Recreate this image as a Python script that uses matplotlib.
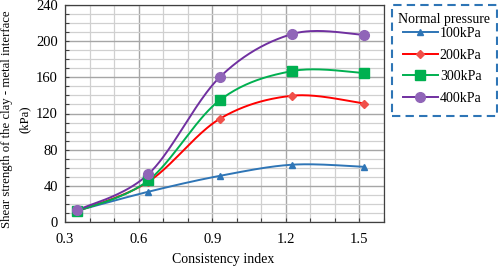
import numpy as np
import matplotlib
matplotlib.use("Agg")
import matplotlib.pyplot as plt
from matplotlib.ticker import MultipleLocator
from matplotlib.lines import Line2D
from matplotlib.patches import Rectangle

plt.rcParams['font.family'] = ['Liberation Serif', 'DejaVu Serif']

consistency = [0.35, 0.64, 0.93, 1.227, 1.52]
series_names = ["100kPa", "200kPa", "300kPa", "400kPa"]
v100 = [12.5, 33.5, 51, 63.4, 61]
v200 = [12, 44.6, 114, 139.7, 131]
v300 = [12, 46, 134.6, 167, 164.8]
v400 = [13, 53, 160, 208, 207]

line_colors = ["#2e75b6", "#ff0000", "#00b050", "#7030a0"]
marker_faces = ["#2e75b6", "#f0504a", "#00b050", "#9065b8"]
markers = ["^", "D", "s", "o"]
msizes = [5, 4, 6.5, 7]


def smooth(x, y, n=40):
    # Excel-style smoothed line: cubic Bezier with Catmull-Rom tangents
    x = np.asarray(x, float); y = np.asarray(y, float)
    px, py = [], []
    k = len(x)
    for i in range(k - 1):
        p0 = (x[i - 1], y[i - 1]) if i > 0 else (x[i], y[i])
        p1 = (x[i], y[i]); p2 = (x[i + 1], y[i + 1])
        p3 = (x[i + 2], y[i + 2]) if i + 2 < k else (x[i + 1], y[i + 1])
        c1 = (p1[0] + (p2[0] - p0[0]) / 6, p1[1] + (p2[1] - p0[1]) / 6)
        c2 = (p2[0] - (p3[0] - p1[0]) / 6, p2[1] - (p3[1] - p1[1]) / 6)
        t = np.linspace(0, 1, n)
        bx = (1-t)**3*p1[0] + 3*(1-t)**2*t*c1[0] + 3*(1-t)*t**2*c2[0] + t**3*p2[0]
        by = (1-t)**3*p1[1] + 3*(1-t)**2*t*c1[1] + 3*(1-t)*t**2*c2[1] + t**3*p2[1]
        px.extend(bx); py.extend(by)
    return np.array(px), np.array(py)


W, H = 498, 267
fig = plt.figure(figsize=(W/100, H/100), dpi=100)
ax = fig.add_axes([65/W, 1 - 222/H, (384-65)/W, (222-5)/H])

ax.set_xlim(0.3, 1.6)
ax.set_ylim(0, 240)
ax.xaxis.set_major_locator(MultipleLocator(0.3))
ax.xaxis.set_minor_locator(MultipleLocator(0.1))
ax.yaxis.set_major_locator(MultipleLocator(40))
ax.yaxis.set_minor_locator(MultipleLocator(10))
ax.grid(which='major', color='#a6a6a6', linewidth=1.0)
ax.grid(which='minor', color='#d0d0d0', linewidth=0.9)
ax.set_axisbelow(True)
ax.set_xticks([0.3, 0.6, 0.9, 1.2, 1.5])
ax.set_xticklabels(["0.3", "0.6", "0.9", "1.2", "1.5"])
ax.tick_params(which='both', direction='in', labelsize=10.5, length=3, width=0.8, color='#404040')
ax.tick_params(axis='x', pad=8)
ax.tick_params(axis='y', pad=5)
for s in ax.spines.values():
    s.set_color('#404040')
    s.set_linewidth(0.9)

handles = []
for vals, name, lc, mf, mk, ms in zip([v100, v200, v300, v400], series_names,
                                      line_colors, marker_faces, markers, msizes):
    sx, sy = smooth(consistency, vals)
    ax.plot(sx, sy, color=lc, linewidth=1.4, zorder=3)
    ax.plot(consistency, vals, linestyle='none', marker=mk, markersize=ms,
            markerfacecolor=mf, markeredgecolor=mf, zorder=4)
    handles.append(Line2D([], [], color=lc, linewidth=1.4, marker=mk, markersize=ms,
                          markerfacecolor=mf, markeredgecolor=mf, label=name))

fig.text(223/W, 1 - 259/H, "Consistency index", fontsize=10, ha='center', va='center')
fig.text(7/W, 1 - 119/H, "Shear strength of the clay - metal interface",
         rotation=90, fontsize=9.2, ha='center', va='center')
fig.text(25/W, 1 - 119/H, "(kPa)", rotation=90, fontsize=9.2, ha='center', va='center')

# legend
fig.patches.append(Rectangle((392/W, 1 - 116/H), 105/W, 111/H, transform=fig.transFigure,
                             fill=False, edgecolor='#2e75b6', linewidth=1.5,
                             linestyle=(0, (4, 2.5)), figure=fig))
fig.text(398/W, 1 - 20/H, "Normal pressure", fontsize=10, ha='left', va='center')
leg = fig.legend(handles=handles, loc='upper left',
                 bbox_to_anchor=(403/W, 1 - 27/H), fontsize=10,
                 frameon=False, handlelength=2.5, handletextpad=0.15,
                 labelspacing=0.62, borderpad=0, borderaxespad=0)

fig.savefig("out.png", dpi=100)
